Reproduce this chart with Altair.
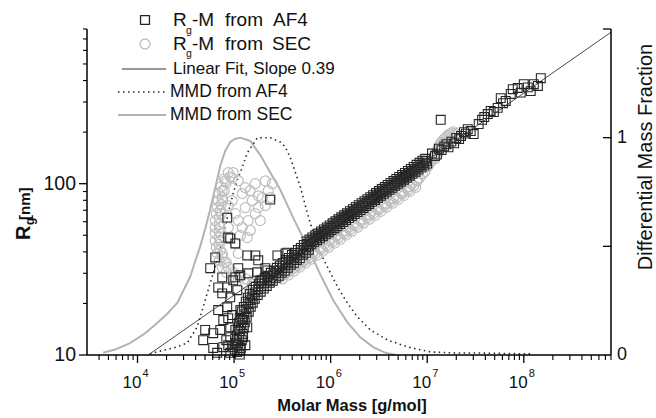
import altair as alt
import pandas as pd

# ------------------------------------------------------------------ data
# MMD curves (right axis, differential mass fraction)
sec_mmd_M = [4.40e3, 5.85e3, 8.37e3, 1.20e4, 1.60e4, 2.03e4, 2.58e4, 3.51e4, 3.95e4, 4.46e4,
             5.02e4, 5.66e4, 6.38e4, 7.19e4, 8.11e4, 9.13e4, 1.03e5, 1.16e5, 1.47e5, 1.87e5,
             2.37e5, 3.01e5, 4.11e5, 5.74e5, 7.83e5, 1.07e6, 1.49e6, 2.04e6, 2.78e6, 3.70e6, 4.70e6]
sec_mmd_frac = [0.01, 0.025, 0.055, 0.10, 0.147, 0.19, 0.24, 0.36, 0.43, 0.50,
                0.58, 0.67, 0.77, 0.87, 0.94, 0.98, 0.995, 1.0, 0.985, 0.92,
                0.84, 0.76, 0.63, 0.50, 0.37, 0.25, 0.15, 0.08, 0.035, 0.01, 0.0]

af4_mmd_M = [1.35e4, 1.45e4, 2.34e4, 3.27e4, 4.15e4, 4.79e4, 5.66e4, 6.69e4, 7.73e4, 8.71e4,
             9.82e4, 1.08e5, 1.16e5, 1.37e5, 1.74e5, 2.37e5, 3.01e5, 3.40e5, 3.83e5, 4.86e5,
             5.74e5, 7.29e5, 9.26e5, 1.18e6, 1.49e6, 1.90e6, 2.59e6, 3.88e6, 6.26e6, 1.08e7,
             2.07e7, 3.58e7, 1.24e8]
af4_mmd_frac = [0.005, 0.01, 0.032, 0.055, 0.129, 0.221, 0.331, 0.437, 0.543, 0.653,
                0.746, 0.805, 0.838, 0.93, 0.999, 1.0, 0.98, 0.957, 0.907, 0.773,
                0.653, 0.497, 0.405, 0.313, 0.239, 0.175, 0.115, 0.069, 0.037, 0.014,
                0.009, 0.009, 0.005]

# Linear fit (slope 0.39) end points
fit_M = [1.29e4, 8.0e8]
fit_Rg = [10.0, 766.0]

# Rg-M from AF4 (squares)
af4_cluster_M = [8.5e4, 2.37e5, 9.13e4, 1.03e5, 8.7e4, 5.66e4, 6.38e4, 1.37e5, 1.78e5, 2.105e5,
                 3.4e5, 2.81e5, 7.54e4, 1.105e5, 1.40e5, 1.03e5, 6.85e4, 8.5e4, 7.54e4, 9.8e4,
                 1.74e5, 2.21e5, 3.56e5, 2.37e5, 1.87e5, 9.13e4, 8.5e4, 7.73e4, 9.13e4, 5.02e4,
                 6.08e4, 4.79e4, 9.13e4, 9.8e4, 7.73e4, 6.69e4, 9.13e4, 1.08e5, 1.24e5, 1.37e5,
                 6.08e4, 1.03e5, 9.57e4, 1.16e5, 8.3e4, 7.19e4, 1.16e5, 1.24e5, 1.31e5, 8.7e4,
                 6.85e4, 1.08e5, 1.16e5, 1.66e5, 8.7e4, 1.38e7]
af4_cluster_Rg = [63.4, 80.7, 47.9, 44.8, 48.5, 32.1, 37.1, 38.1, 35.7, 32.1,
                  39.2, 38.1, 28.4, 32.1, 30.0, 28.4, 24.8, 24.8, 22.9, 27.3,
                  30.4, 31.2, 39.6, 27.3, 27.3, 21.7, 19.0, 16.0, 14.5, 14.0,
                  13.4, 12.2, 12.7, 11.1, 11.1, 10.3, 10.3, 12.2, 16.0, 14.5,
                  11.0, 14.0, 17.1, 18.3, 12.2, 14.0, 10.7, 12.7, 11.4, 16.4,
                  18.3, 23.9, 29.2, 38.1, 11.4, 236]

af4_rise_M = [1.079e5, 1.105e5, 1.132e5, 1.159e5, 1.187e5, 1.216e5, 1.275e5, 1.338e5, 1.403e5, 1.472e5,
              1.543e5, 1.658e5, 1.781e5, 1.913e5, 2.056e5, 2.209e5, 2.373e5, 2.549e5, 2.738e5, 2.941e5,
              3.160e5, 3.395e5, 3.647e5, 3.917e5, 4.209e5, 4.522e5, 4.858e5, 5.219e5, 5.606e5,
              1.016e5, 1.041e5, 1.066e5, 1.092e5, 1.118e5, 1.145e5, 1.201e5, 1.260e5, 1.322e5, 1.387e5,
              1.453e5, 1.562e5, 1.678e5, 1.802e5, 1.937e5, 2.081e5, 2.235e5, 2.401e5, 2.579e5, 2.770e5,
              2.977e5, 3.198e5, 3.435e5, 3.690e5, 3.965e5, 4.260e5, 4.576e5, 4.916e5, 5.281e5,
              1.146e5, 1.174e5, 1.202e5, 1.231e5, 1.261e5, 1.291e5, 1.354e5, 1.421e5, 1.490e5, 1.563e5,
              1.639e5, 1.761e5, 1.891e5, 2.032e5, 2.183e5, 2.346e5, 2.520e5, 2.707e5, 2.908e5, 3.123e5,
              3.356e5, 3.605e5, 3.873e5, 4.160e5, 4.470e5, 4.802e5, 5.159e5, 5.543e5, 5.954e5]
af4_rise_Rg = [10.4, 11.4, 12.6, 13.8, 14.9, 16.0, 17.3, 18.5, 19.8, 20.9,
               22.0, 23.2, 24.2, 25.2, 26.2, 27.3, 28.0, 29.2, 30.0, 31.2,
               32.1, 33.4, 34.7, 35.7, 37.1, 38.1, 39.7, 40.8, 42.5,
               10.75, 11.8, 13.0, 14.3, 15.4, 16.5, 17.9, 19.1, 20.5, 21.6,
               22.7, 24.0, 25.0, 26.1, 27.1, 28.2, 29.0, 30.2, 31.0, 32.3,
               33.2, 34.5, 35.9, 36.9, 38.4, 39.4, 41.0, 42.2, 43.9,
               10.06, 11.0, 12.2, 13.3, 14.4, 15.5, 16.7, 17.9, 19.1, 20.2,
               21.3, 22.4, 23.4, 24.4, 25.3, 26.4, 27.1, 28.2, 29.0, 30.2,
               31.0, 32.3, 33.6, 34.5, 35.9, 36.8, 38.4, 39.5, 41.1]

af4_band_M = [5.623e5, 5.754e5, 5.888e5, 6.026e5, 6.166e5, 6.310e5, 6.457e5, 6.607e5, 6.761e5, 6.918e5,
              7.079e5, 7.244e5, 7.413e5, 7.586e5, 7.762e5, 7.943e5, 8.128e5, 8.318e5, 8.511e5, 8.710e5,
              8.913e5, 9.120e5, 9.333e5, 9.550e5, 9.772e5, 1.000e6, 1.023e6, 1.047e6, 1.072e6, 1.096e6,
              1.122e6, 1.148e6, 1.175e6, 1.202e6, 1.230e6, 1.259e6, 1.288e6, 1.318e6, 1.349e6, 1.380e6,
              1.413e6, 1.445e6, 1.479e6, 1.514e6, 1.549e6, 1.585e6, 1.622e6, 1.660e6, 1.698e6, 1.738e6,
              1.778e6, 1.820e6, 1.862e6, 1.905e6, 1.950e6, 1.995e6, 2.042e6, 2.089e6, 2.138e6, 2.188e6,
              2.239e6, 2.291e6, 2.344e6, 2.399e6, 2.455e6, 2.512e6, 2.570e6, 2.630e6, 2.692e6, 2.754e6,
              2.818e6, 2.884e6, 2.951e6, 3.020e6, 3.090e6, 3.162e6, 3.236e6, 3.311e6, 3.388e6, 3.467e6,
              3.548e6, 3.631e6, 3.715e6, 3.802e6, 3.890e6, 3.981e6, 4.074e6, 4.169e6, 4.266e6, 4.365e6,
              4.467e6, 4.571e6, 4.677e6, 4.786e6, 4.898e6, 5.012e6, 5.129e6, 5.248e6, 5.370e6, 5.495e6,
              5.623e6, 5.754e6, 5.888e6, 6.026e6, 6.166e6, 6.310e6, 6.457e6, 6.607e6, 6.761e6, 6.918e6,
              7.079e6, 7.244e6, 7.413e6, 7.586e6, 7.762e6, 7.943e6, 8.128e6, 8.318e6, 8.511e6, 8.710e6,
              8.913e6, 9.120e6, 9.333e6, 9.550e6, 9.772e6, 1.000e7]
af4_band_Rg = [46.0, 44.5, 43.1, 47.2, 45.7, 44.3, 48.6, 47.0, 45.5, 49.9,
               48.3, 46.8, 51.2, 49.6, 48.0, 52.7, 51.0, 49.4, 54.1, 52.4,
               50.7, 55.6, 53.8, 52.1, 57.1, 55.3, 53.5, 58.7, 56.8, 55.0,
               60.3, 58.4, 56.5, 62.0, 60.0, 58.1, 63.7, 61.6, 59.7, 65.4,
               63.3, 61.3, 67.2, 65.1, 63.0, 69.1, 66.9, 64.7, 71.0, 68.7,
               66.5, 72.9, 70.6, 68.3, 74.9, 72.5, 70.2, 77.0, 74.5, 72.2,
               79.1, 76.6, 74.1, 81.3, 78.7, 76.2, 83.5, 80.9, 78.3, 85.8,
               83.1, 80.4, 88.2, 85.4, 82.6, 90.6, 87.7, 84.9, 93.1, 90.1,
               87.2, 95.6, 92.6, 89.6, 98.3, 95.1, 92.1, 101.0, 97.8, 94.6,
               103.7, 100.4, 97.3, 106.6, 103.2, 99.9, 109.5, 106.0, 102.7, 112.6,
               109.0, 105.5, 115.6, 111.9, 108.4, 118.8, 115.0, 111.4, 122.1, 118.2,
               114.4, 125.4, 121.4, 117.5, 128.9, 124.8, 120.8, 132.5, 128.2, 124.1,
               136.1, 131.7, 127.5, 139.8, 135.3, 131.0]

af4_top_M = [1.12e7, 1.20e7, 1.26e7, 1.32e7, 1.41e7, 1.50e7, 1.58e7, 1.66e7, 1.78e7, 1.90e7,
             2.00e7, 2.14e7, 2.24e7, 2.40e7, 2.51e7, 2.63e7, 2.82e7, 3.03e7, 3.41e7, 3.70e7,
             3.90e7, 4.23e7, 4.54e7, 4.90e7, 5.37e7, 5.77e7, 6.10e7, 6.50e7, 7.33e7, 7.69e7,
             8.66e7, 9.30e7, 1.00e8, 1.10e8, 1.18e8, 1.27e8, 1.40e8, 1.50e8]
af4_top_Rg = [150, 145, 148, 160, 157, 165, 170, 163, 176, 172,
              185, 182, 190, 200, 196, 208, 203, 195, 223, 236,
              245, 255, 266, 262, 277, 316, 295, 304, 334, 356,
              362, 340, 381, 365, 347, 381, 372, 413]

# Rg-M from SEC (circles)
sec_loop_M = [8.70e4, 9.80e4, 7.91e4, 7.36e4, 7.02e4, 6.85e4, 6.69e4, 6.54e4, 6.38e4, 6.38e4,
              6.38e4, 6.38e4, 6.54e4, 6.69e4, 7.02e4, 7.54e4, 8.30e4, 9.57e4, 1.105e5, 1.306e5,
              1.544e5, 1.96e5, 2.37e5, 2.87e5, 3.48e5, 4.31e5, 5.22e5, 6.47e5, 7.83e5, 9.48e5,
              1.148e6, 1.423e6, 1.723e6, 2.085e6, 2.525e6, 3.06e6, 3.70e6, 4.48e6, 5.42e6, 6.56e6,
              7.76e6, 8.95e6, 1.009e7, 1.11e7, 1.22e7, 1.312e7, 1.41e7, 1.55e7, 1.71e7, 1.877e7,
              2.02e7, 1.627e7, 1.376e7]
sec_loop_Rg = [116, 116, 106.9, 96.1, 87.5, 79.6, 72.5, 66.9, 60.9, 55.5,
               51.2, 46.6, 42.5, 39.2, 35.7, 32.5, 30.4, 28.4, 27.3, 26.2,
               25.9, 26.2, 26.9, 28.4, 30.4, 32.5, 35.7, 39.2, 42.5, 46.6,
               49.9, 53.3, 57.8, 61.8, 66.0, 71.5, 76.5, 81.8, 88.7, 96.1,
               104, 114, 126, 136, 151, 164, 175, 185, 195, 201,
               193, 178, 162]
sec_inner_M = [9.13e4, 8.30e4, 7.91e4, 7.54e4, 7.36e4, 7.19e4, 7.02e4, 7.02e4, 7.02e4, 7.02e4,
               7.02e4, 7.19e4, 7.54e4, 7.91e4, 8.70e4, 9.80e4, 1.132e5, 1.338e5, 1.58e5, 1.913e5,
               2.26e5, 2.67e5, 3.16e5]
sec_inner_Rg = [109.8, 101.3, 91.0, 82.9, 75.5, 69.7, 63.4, 57.8, 52.6, 48.5,
                44.2, 40.8, 37.6, 34.7, 32.5, 30.4, 28.8, 27.7, 27.3, 27.7,
                28.4, 29.6, 31.2]
sec_band_M = [2.884e5, 3.020e5, 3.162e5, 3.311e5, 3.467e5, 3.631e5, 3.802e5, 3.981e5, 4.169e5, 4.365e5,
              4.571e5, 4.786e5, 5.012e5, 5.248e5, 5.495e5, 5.754e5, 6.026e5, 6.310e5, 6.607e5, 6.918e5,
              7.244e5, 7.586e5, 7.943e5, 8.318e5, 8.710e5, 9.120e5, 9.550e5, 1.000e6, 1.047e6, 1.096e6,
              1.148e6, 1.202e6, 1.259e6, 1.318e6, 1.380e6, 1.445e6, 1.514e6, 1.585e6, 1.660e6, 1.738e6,
              1.820e6, 1.905e6, 1.995e6, 2.089e6, 2.188e6, 2.291e6, 2.399e6, 2.512e6, 2.630e6, 2.754e6,
              2.884e6, 3.020e6, 3.162e6, 3.311e6, 3.467e6, 3.631e6, 3.802e6, 3.981e6, 4.169e6, 4.365e6,
              4.571e6, 4.786e6, 5.012e6, 5.248e6, 5.495e6, 5.754e6, 6.026e6, 6.310e6, 6.607e6, 6.918e6,
              7.244e6, 7.586e6, 7.943e6]
sec_band_Rg = [29.0, 28.4, 27.8, 30.6, 29.9, 29.3, 32.2, 31.6, 30.9, 34.0,
               33.3, 32.6, 35.9, 35.1, 34.4, 37.9, 37.1, 36.3, 40.0, 39.1,
               38.3, 42.2, 41.3, 40.4, 44.5, 43.5, 42.6, 46.9, 45.9, 45.0,
               49.5, 48.5, 47.4, 52.2, 51.1, 50.1, 55.1, 54.0, 52.8, 58.2,
               56.9, 55.7, 61.3, 60.1, 58.8, 64.7, 63.4, 62.0, 68.3, 66.9,
               65.4, 72.0, 70.5, 69.0, 76.0, 74.4, 72.8, 80.2, 78.5, 76.9,
               84.6, 82.8, 81.1, 89.3, 87.4, 85.5, 94.2, 92.2, 90.2, 99.4,
               97.3, 95.2, 104.8]
sec_cluster_M = [8.10e4, 9.57e4, 1.105e5, 1.306e5, 1.658e5, 2.105e5, 2.26e5, 2.49e5, 1.96e5, 1.544e5,
                 1.216e5, 9.57e4, 1.306e5, 1.78e5, 1.658e5, 1.03e5, 1.40e5, 1.216e5, 8.70e4, 1.37e5,
                 1.03e5, 1.105e5, 1.47e5, 1.16e5, 1.87e5, 2.105e5, 2.37e5, 1.47e5, 1.78e5, 7.54e4,
                 8.70e4, 1.105e5, 7.54e4, 7.36e4, 7.19e4, 7.19e4, 7.54e4, 8.30e4]
sec_cluster_Rg = [104, 108, 104, 94.8, 100, 104, 91.0, 100, 82.9, 79.6,
                  87.5, 79.6, 72.5, 72.5, 66.9, 66.9, 60.9, 55.5, 55.5, 48.5,
                  44.8, 39.2, 53.3, 49.9, 60.9, 74.5, 82.9, 91.0, 85.0, 91.0,
                  74.5, 60.9, 79.6, 66.9, 55.5, 46.6, 39.2, 34.8]
sec_top_M = [8.3e6, 9.5e6, 1.06e7, 1.16e7, 1.27e7, 1.36e7, 1.48e7, 1.63e7, 1.79e7, 1.95e7,
             1.50e7, 1.20e7, 1.30e7]
sec_top_Rg = [108, 118, 131, 143, 157, 170, 181, 191, 198, 196,
              172, 140, 150]

# axis ticks / labels
x_major = [1e4, 1e5, 1e6, 1e7, 1e8]
x_exp = ["4", "5", "6", "7", "8"]
x_minor = [4e3, 5e3, 6e3, 7e3, 8e3, 9e3,
           2e4, 3e4, 4e4, 5e4, 6e4, 7e4, 8e4, 9e4,
           2e5, 3e5, 4e5, 5e5, 6e5, 7e5, 8e5, 9e5,
           2e6, 3e6, 4e6, 5e6, 6e6, 7e6, 8e6, 9e6,
           2e7, 3e7, 4e7, 5e7, 6e7, 7e7, 8e7, 9e7,
           2e8, 3e8, 4e8, 5e8, 6e8, 7e8, 8e8]
yl_major = [10, 100]
yl_major_text = ["10", "100"]
yl_minor = [20, 30, 40, 50, 60, 70, 80, 90, 200, 300, 400, 500, 600, 700, 800]
yr_labels = [0, 1]
yr_label_text = ["0", "1"]
yr_ticks = [0.5, 1.0, 1.5]

# ------------------------------------------------------------------ styling
FONT = "Liberation Sans"
TXT = "#111111"
AF4C = "#262626"
SECC = "#bfbfbf"
SECLINE = "#b3b3b3"
AX = "#000000"
W, H = 524, 326

X_SCALE = alt.Scale(type="log", domain=[3000, 8e8], nice=False)
YL_SCALE = alt.Scale(type="log", domain=[10, 800], nice=False)
YR_SCALE = alt.Scale(type="linear", domain=[0, 1.5], nice=False, zero=False)

af4_df = pd.DataFrame({"M": af4_cluster_M + af4_rise_M + af4_band_M + af4_top_M,
                       "Rg": af4_cluster_Rg + af4_rise_Rg + af4_band_Rg + af4_top_Rg})
sec_df = pd.DataFrame({"M": sec_loop_M + sec_inner_M + sec_band_M + sec_cluster_M + sec_top_M,
                       "Rg": sec_loop_Rg + sec_inner_Rg + sec_band_Rg + sec_cluster_Rg + sec_top_Rg})
fit_df = pd.DataFrame({"M": fit_M, "Rg": fit_Rg})
sec_mmd_df = pd.DataFrame({"M": sec_mmd_M, "frac": sec_mmd_frac})
af4_mmd_df = pd.DataFrame({"M": af4_mmd_M, "frac": af4_mmd_frac})
xmaj_df = pd.DataFrame({"M": x_major, "e": x_exp})
xmin_df = pd.DataFrame({"v": x_minor})
ylmaj_df = pd.DataFrame({"v": yl_major, "t": yl_major_text})
ylmin_df = pd.DataFrame({"v": yl_minor})
yrlab_df = pd.DataFrame({"v": yr_labels, "t": yr_label_text})
yrt_df = pd.DataFrame({"v": yr_ticks})
dummy = pd.DataFrame({"k": [0]})


def xf(f):
    return alt.X(f, scale=X_SCALE, axis=None)


def ylf(f):
    return alt.Y(f, scale=YL_SCALE, axis=None)


def yrf(f):
    return alt.Y(f, scale=YR_SCALE, axis=None)


# ---------------- right-scale group (MMD curves + right axis)
sec_mmd = alt.Chart(sec_mmd_df).mark_line(color=SECLINE, strokeWidth=2).encode(
    x=xf("M:Q"), y=yrf("frac:Q"))
af4_mmd = alt.Chart(af4_mmd_df).mark_line(color="#2a2a2a", strokeWidth=1.6,
                                          strokeDash=[1.5, 3.5]).encode(
    x=xf("M:Q"), y=yrf("frac:Q"))
yr_tick_marks = alt.Chart(yrt_df).mark_rule(color=AX, strokeWidth=1.3).encode(
    y=yrf("v:Q"), x=alt.value(W - 8), x2=alt.value(W))
yr_label_marks = alt.Chart(yrlab_df).mark_text(align="left", baseline="middle", fontSize=18,
                                               font=FONT, color=TXT).encode(
    y=yrf("v:Q"), x=alt.value(W + 6), text="t:N")
right_group = alt.layer(sec_mmd, af4_mmd, yr_tick_marks, yr_label_marks)

# ---------------- left-scale group (Rg-M + left axis)
sec_pts = alt.Chart(sec_df).mark_point(shape="circle", filled=False, size=100, color=SECC,
                                       strokeWidth=1.2, opacity=1).encode(
    x=xf("M:Q"), y=ylf("Rg:Q"))
af4_pts = alt.Chart(af4_df).mark_point(shape="square", filled=False, size=78, color=AF4C,
                                       strokeWidth=1.1, opacity=1).encode(
    x=xf("M:Q"), y=ylf("Rg:Q"))
fit_line = alt.Chart(fit_df).mark_line(color="#333333", strokeWidth=0.9).encode(
    x=xf("M:Q"), y=ylf("Rg:Q"))
yl_minor_marks = alt.Chart(ylmin_df).mark_rule(color=AX, strokeWidth=1.1).encode(
    y=ylf("v:Q"), x=alt.value(0), x2=alt.value(-4))
yl_major_marks = alt.Chart(ylmaj_df).mark_rule(color=AX, strokeWidth=1.3).encode(
    y=ylf("v:Q"), x=alt.value(0), x2=alt.value(-8))
yl_label_marks = alt.Chart(ylmaj_df).mark_text(align="right", baseline="middle", fontSize=19.5,
                                               font=FONT, color=TXT).encode(
    y=ylf("v:Q"), x=alt.value(-11), text="t:N")
left_group = alt.layer(sec_pts, af4_pts, fit_line, yl_minor_marks, yl_major_marks, yl_label_marks)

# ---------------- x ticks and labels
x_minor_marks = alt.Chart(xmin_df).mark_rule(color=AX, strokeWidth=1.1).encode(
    x=xf("v:Q"), y=alt.value(H), y2=alt.value(H + 5))
x_major_marks = alt.Chart(xmaj_df).mark_rule(color=AX, strokeWidth=1.3).encode(
    x=xf("M:Q"), y=alt.value(H), y2=alt.value(H + 8))
x_lab_10 = alt.Chart(xmaj_df).mark_text(align="right", baseline="alphabetic", dx=4, fontSize=17,
                                        font=FONT, color=TXT).encode(
    x=xf("M:Q"), y=alt.value(H + 33), text=alt.value("10"))
x_lab_exp = alt.Chart(xmaj_df).mark_text(align="left", baseline="alphabetic", dx=5, fontSize=11,
                                         font=FONT, color=TXT).encode(
    x=xf("M:Q"), y=alt.value(H + 22), text="e:N")

# ---------------- axis lines
axis_lines = [
    alt.Chart(dummy).mark_rule(color=AX, strokeWidth=1.5).encode(
        x=alt.value(0), y=alt.value(0), y2=alt.value(H)),
    alt.Chart(dummy).mark_rule(color=AX, strokeWidth=1.5).encode(
        x=alt.value(W), y=alt.value(0), y2=alt.value(H)),
    alt.Chart(dummy).mark_rule(color=AX, strokeWidth=1.5).encode(
        x=alt.value(0), x2=alt.value(W), y=alt.value(H)),
]


def txt(s, x, y, size, align="left", baseline="middle", angle=0, weight="normal", color=TXT):
    props = dict(text=s, fontSize=size, font=FONT, color=color, align=align,
                 baseline=baseline, fontWeight=weight)
    if angle:
        props["angle"] = angle
    return alt.Chart(dummy).mark_text(**props).encode(x=alt.value(x), y=alt.value(y))


# ---------------- titles
titles = [
    txt("Molar Mass [g/mol]", 265, 382, 16.5, align="center", baseline="alphabetic", weight="bold"),
    txt("R", -57, 211, 20, baseline="alphabetic", angle=270, weight="bold"),
    txt("g", -53, 196, 12, baseline="alphabetic", angle=270, weight="bold"),
    txt("[nm]", -57, 191, 15, baseline="alphabetic", angle=270, weight="bold"),
    txt("Differential Mass Fraction", 565, 128, 20, align="center", baseline="alphabetic", angle=270),
]

# ---------------- legend
legend = [
    alt.Chart(dummy).mark_point(shape="square", filled=False, size=80, color=AF4C, strokeWidth=1.3,
                                opacity=1).encode(x=alt.value(58), y=alt.value(-9)),
    alt.Chart(dummy).mark_point(shape="circle", filled=False, size=100, color=SECC, strokeWidth=1.3,
                                opacity=1).encode(x=alt.value(58), y=alt.value(15)),
    txt("R", 86, -9, 19), txt("g", 99, 2, 10.5), txt("-M", 105, -9, 19),
    txt("from", 138, -9, 19), txt("AF4", 186, -9, 19),
    txt("R", 86, 15, 19), txt("g", 99, 25, 10.5), txt("-M", 105, 15, 19),
    txt("from", 138, 15, 19), txt("SEC", 185, 15, 19),
    alt.Chart(dummy).mark_rule(color="#333333", strokeWidth=1).encode(
        x=alt.value(35), x2=alt.value(79), y=alt.value(40)),
    txt("Linear Fit, Slope 0.39", 86, 40, 17),
    alt.Chart(dummy).mark_rule(color="#2a2a2a", strokeWidth=1.6, strokeDash=[1.5, 3.5]).encode(
        x=alt.value(31), x2=alt.value(79), y=alt.value(63)),
    txt("MMD from AF4", 83, 63, 17.5),
    alt.Chart(dummy).mark_rule(color=SECLINE, strokeWidth=2).encode(
        x=alt.value(31), x2=alt.value(79), y=alt.value(86)),
    txt("MMD from SEC", 83, 86, 17.5),
]

chart = alt.layer(
    right_group, left_group, x_minor_marks, x_major_marks, x_lab_10, x_lab_exp,
    *axis_lines, *titles, *legend
).resolve_scale(y="independent").properties(
    width=W, height=H,
    padding={"left": 87, "top": 29, "right": 45, "bottom": 63},
    autosize=alt.AutoSizeParams(type="none"),
    background="white",
).configure_view(strokeWidth=0)

chart.save("out.html", embed_options={"renderer": "svg", "actions": False})
